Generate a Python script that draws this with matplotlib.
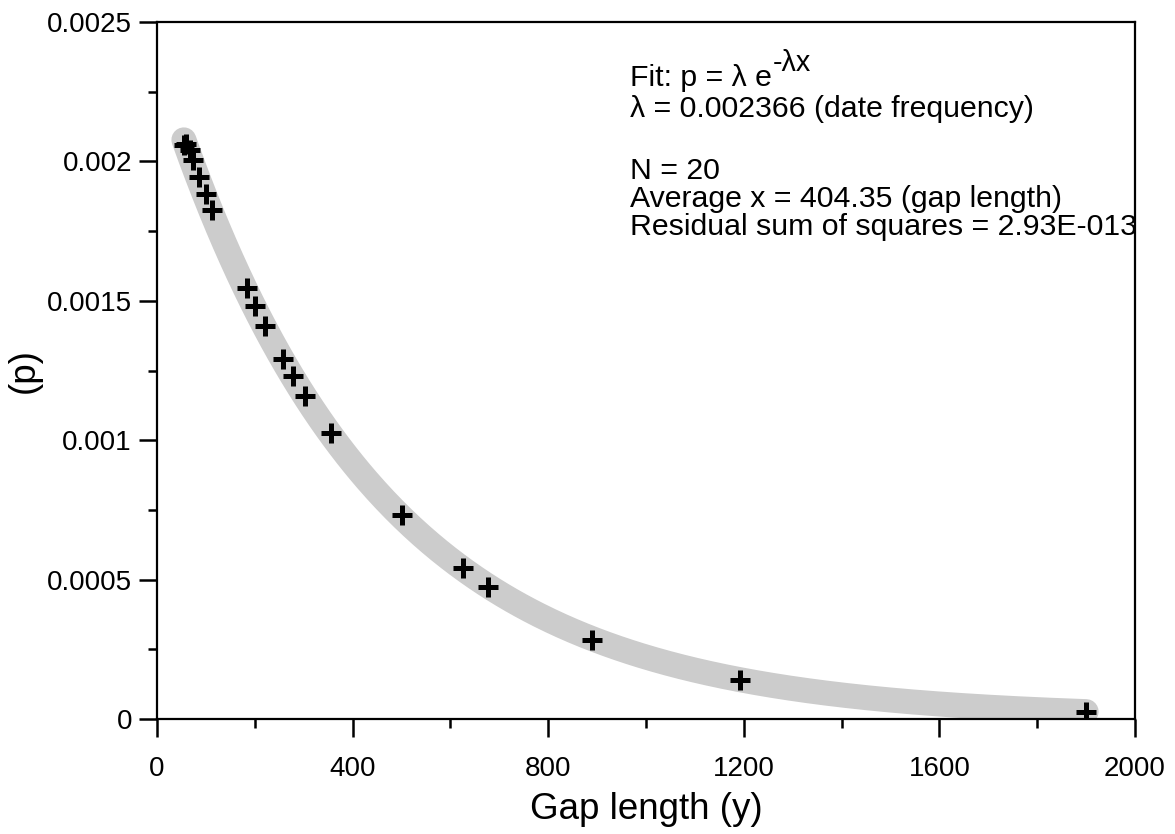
import numpy as np
import matplotlib
matplotlib.use("Agg")
import matplotlib.pyplot as plt
from matplotlib.ticker import MultipleLocator

plt.rcParams['font.family'] = ['Liberation Sans', 'DejaVu Sans']

# --- Data ---
gap_length = [55, 59, 67, 74, 86, 100, 112, 184, 200, 221, 258, 278, 303,
              356, 501, 626, 677, 890, 1192, 1900]
p_values = [0.002058, 0.002062, 0.002041, 0.002005, 0.001944, 0.001883, 0.001826,
            0.001546, 0.001481, 0.001410, 0.001291, 0.001230, 0.001159,
            0.001026, 0.000732, 0.000542, 0.000473, 0.000285, 0.000140, 0.000025]

# fitted exponential, p = lambda * exp(-lambda * x)
LAMBDA = 0.002366
FIT_START = 55
FIT_END = 1900

x_ticks = [0, 400, 800, 1200, 1600, 2000]
y_ticks = [0, 0.0005, 0.001, 0.0015, 0.002, 0.0025]
y_tick_labels = ['0', '0.0005', '0.001', '0.0015', '0.002', '0.0025']

info_lines = [
    "λ = 0.002366 (date frequency)",
    "N = 20",
    "Average x = 404.35 (gap length)",
    "Residual sum of squares = 2.93E-013",
]

fig = plt.figure(figsize=(11.75, 8.34), dpi=100)
ax = fig.add_axes([0.1336, 0.1379, 0.8324, 0.8357])

# gray fit band
fit_x = np.linspace(FIT_START, FIT_END, 400)
fit_y = LAMBDA * np.exp(-LAMBDA * fit_x)
ax.plot(fit_x, fit_y, color='#cccccc', linewidth=18, solid_capstyle='round', zorder=1)

# data points
ax.plot(gap_length, p_values, linestyle='none', marker='+', markersize=14.5,
        markeredgewidth=3.6, color='black', zorder=3)

ax.set_xlim(0, 2000)
ax.set_ylim(0, 0.0025)
ax.set_xticks(x_ticks)
ax.set_xticklabels([str(v) for v in x_ticks])
ax.set_yticks(y_ticks)
ax.set_yticklabels(y_tick_labels)
ax.xaxis.set_minor_locator(MultipleLocator(200))
ax.yaxis.set_minor_locator(MultipleLocator(0.00025))

ax.tick_params(which='major', direction='out', length=13, width=1.8, labelsize=20)
ax.tick_params(axis='x', which='major', pad=14)
ax.tick_params(axis='y', which='major', pad=5)
ax.tick_params(which='minor', direction='out', length=6.5, width=1.8)
for side in ['left', 'bottom', 'top', 'right']:
    ax.spines[side].set_linewidth(1.6)

ax.set_xlabel('Gap length (y)', fontsize=26.5, labelpad=7)
ax.set_ylabel('(p)', fontsize=26.5, labelpad=4)

# annotation block
fs = 21.8
x0 = 0.4836
fit_text = ax.text(x0, 0.9085, "Fit: p = λ e", transform=ax.transAxes,
                   fontsize=fs, va='baseline', ha='left')
ax.annotate("-λx", xy=(1.0, 0.0), xycoords=fit_text, xytext=(0.5, 11),
            textcoords='offset points', fontsize=fs * 0.95, va='bottom', ha='left')
for y, line in zip([0.8637, 0.7748, 0.7346, 0.6944], info_lines):
    ax.text(x0, y, line, transform=ax.transAxes, fontsize=fs, va='baseline', ha='left')

fig.savefig('out.png', dpi=100)
